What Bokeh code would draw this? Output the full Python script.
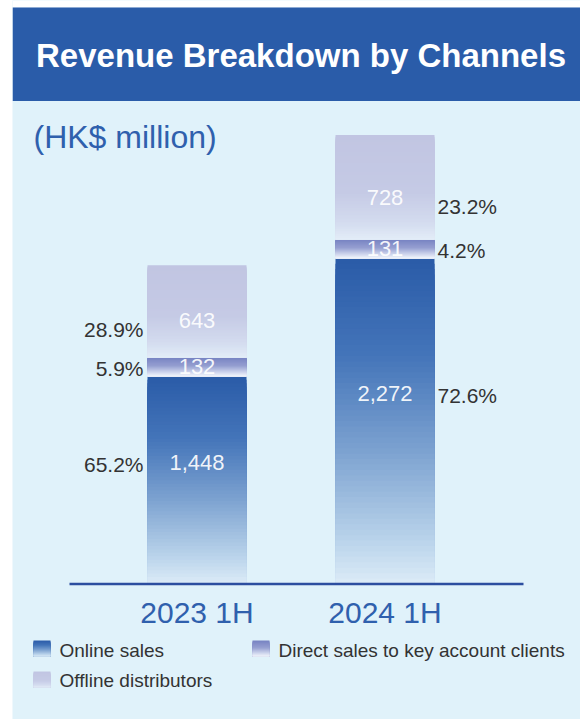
import numpy as np
from bokeh.plotting import figure
from bokeh.models import Range1d
from bokeh.embed import file_html
from bokeh.resources import INLINE
from bokeh.core.properties import value

# ---------------- data ----------------
periods = ["2023 1H", "2024 1H"]
channels = ["Online sales", "Direct sales to key account clients", "Offline distributors"]
online = [1448, 2272]
direct = [132, 131]
offline = [643, 728]
online_pct = ["65.2%", "72.6%"]
direct_pct = ["5.9%", "4.2%"]
offline_pct = ["28.9%", "23.2%"]
title_text = "Revenue Breakdown by Channels"
unit_text = "(HK$ million)"

# ---------------- layout helpers (page pixel -> data) ----------------
W, H = 580, 719
FX0, FY0 = 12, 0            # page position of plot frame
FW, FH = W - FX0, H
PX_PER_CAT = 188.0
CAT0_PX = 196.5
BASE_PX = 583.5
UPP = 6.9735                # data units per pixel (vertical)
XS = -(CAT0_PX - FX0) / PX_PER_CAT


def X(px):
    return XS + (px - FX0) / PX_PER_CAT


def Y(py):
    return (BASE_PX - py) * UPP


p = figure(width=W, height=H, output_backend="svg", toolbar_location=None,
           x_range=Range1d(XS, XS + FW / PX_PER_CAT),
           y_range=Range1d(Y(FY0 + FH), Y(FY0)),
           x_axis_type=None, y_axis_type=None,
           min_border_left=FX0, min_border_right=0, min_border_top=0, min_border_bottom=0)
p.background_fill_color = "#e0f2fa"
p.border_fill_color = "#ffffff"
p.outline_line_color = None
p.grid.visible = False

FONT = value("Liberation Sans")
BLUE_TXT = "#2f60ad"

# title band and white top strip
p.quad(left=[XS], right=[XS + FW / PX_PER_CAT], top=[Y(0)], bottom=[Y(7)],
       fill_color="#ffffff", line_color=None)
p.quad(left=[XS], right=[XS + FW / PX_PER_CAT], top=[Y(7)], bottom=[Y(100.5)],
       fill_color="#2a5ca9", line_color=None)
p.text(x=[X(300.5)], y=[Y(54.5)], text=[title_text], text_align="center",
       text_baseline="middle", text_font=FONT, text_font_style="bold",
       text_font_size="33px", text_color="#ffffff")
p.text(x=[X(33)], y=[Y(136)], text=[unit_text], text_align="left",
       text_baseline="middle", text_font=FONT, text_font_size="32px",
       text_color=BLUE_TXT)


def hex2rgb(h):
    h = h.lstrip("#")
    return np.array([int(h[i:i + 2], 16) for i in (0, 2, 4)], dtype=float)


def grad_color(stops, t):
    pos = [s[0] for s in stops]
    cols = [hex2rgb(s[1]) for s in stops]
    c = np.array([np.interp(t, pos, [cc[k] for cc in cols]) for k in range(3)])
    return "#%02x%02x%02x" % tuple(int(round(v)) for v in c)


GRADS = [
    [(0.0, "#2a5ba8"), (0.3, "#4475b9"), (0.6, "#7ea3d1"), (0.88, "#bdd6ec"), (1.0, "#dcebf7")],
    [(0.0, "#7782c2"), (0.45, "#959fd0"), (0.8, "#d0d7ee"), (1.0, "#f2f5fb")],
    [(0.0, "#c1c5e2"), (0.55, "#c5cae5"), (0.85, "#d4dcef"), (1.0, "#e3edf8")],
]

N = 60
BAR_W = 99 / PX_PER_CAT
xs = np.arange(len(periods), dtype=float)
series = [online, direct, offline]

left, right, top, bottom, colors = [], [], [], [], []
bottoms = np.zeros(len(periods))
seg_bounds = []
for si, vals in enumerate(series):
    vals = np.array(vals, dtype=float)
    tops = bottoms + vals
    seg_bounds.append((bottoms.copy(), tops.copy()))
    for bi in range(len(periods)):
        edges = np.linspace(tops[bi], bottoms[bi], N + 1)
        for k in range(N):
            # each slice reaches down to the segment bottom; later slices paint over
            left.append(xs[bi] - BAR_W / 2)
            right.append(xs[bi] + BAR_W / 2)
            top.append(edges[k])
            bottom.append(bottoms[bi])
            colors.append(grad_color(GRADS[si], (k + 0.5) / N))
    bottoms = tops

p.quad(left=left, right=right, top=top, bottom=bottom, fill_color=colors,
       line_color=None)

# baseline
p.segment(x0=[X(69)], x1=[X(523)], y0=[0], y1=[0], line_color="#2c4e9f", line_width=2.5)

# value and percent labels
label_frac = [0.585, 0.5, 0.40]
pct_dy = [2, 2, 9]
pcts = [online_pct, direct_pct, offline_pct]
for si, vals in enumerate(series):
    b, t = seg_bounds[si]
    ys = b + (t - b) * label_frac[si]
    p.text(x=xs, y=ys, text=[f"{v:,}" for v in vals], text_align="center",
           text_baseline="middle", text_font=FONT, text_font_size="22px",
           text_color="#ffffff", text_alpha=0.92)
    # first bar: percentage on the left; second bar: on the right
    p.text(x=[xs[0] - BAR_W / 2], y=[ys[0]], text=[pcts[si][0]], text_align="right",
           text_baseline="middle", x_offset=-4, y_offset=pct_dy[si], text_font=FONT,
           text_font_size="21px", text_color="#333333")
    p.text(x=[xs[1] + BAR_W / 2], y=[ys[1]], text=[pcts[si][1]], text_align="left",
           text_baseline="middle", x_offset=3, y_offset=pct_dy[si], text_font=FONT,
           text_font_size="21px", text_color="#333333")

# category labels
p.text(x=xs, y=[Y(612)] * len(periods), text=periods, text_align="center",
       text_baseline="middle", text_font=FONT, text_font_size="30px",
       text_color=BLUE_TXT)

# legend
leg_pos = [(33, 640, 59, 649.5), (252, 640, 278, 649.5), (33, 671, 59, 679.5)]
LN = 16
for ci, name in enumerate(channels):
    mx, my, tx, ty = leg_pos[ci]
    edges = np.linspace(Y(my), Y(my + 16), LN + 1)
    cols = [grad_color(GRADS[ci], (k + 0.5) / LN) for k in range(LN)]
    p.quad(left=[X(mx)] * LN, right=[X(mx + 17)] * LN, top=list(edges[:-1]),
           bottom=[Y(my + 16)] * LN, fill_color=cols, line_color=None)
    p.text(x=[X(tx)], y=[Y(ty)], text=[name], text_align="left",
           text_baseline="middle", text_font=FONT, text_font_size="19px",
           text_color="#333333")

open("out.html", "w").write(file_html(p, INLINE))
